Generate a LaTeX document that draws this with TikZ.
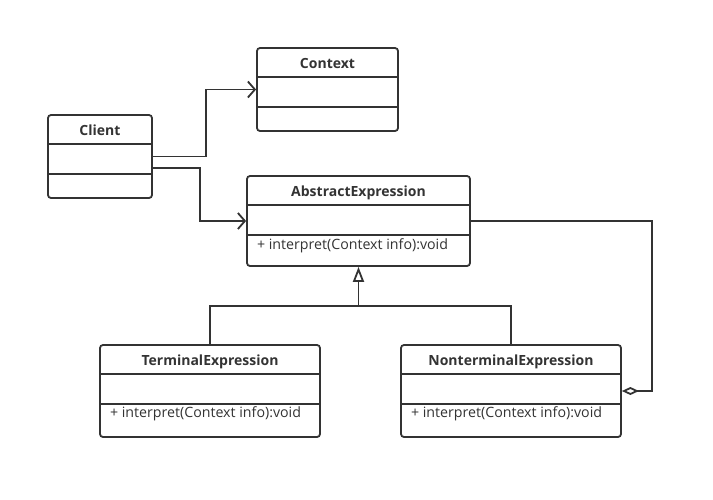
\documentclass[tikz,border=0pt]{standalone}
\usepackage{fontspec}
\setmainfont{Open Sans}
\usepackage{tikz}
\usetikzlibrary{positioning,calc,arrows.meta}

\definecolor{ink}{HTML}{333333}

\begin{document}
\begin{tikzpicture}[x=1pt, y=-1pt, line width=1.8pt, draw=ink, text=ink,
class node/.style={rectangle, draw=ink, rounded corners=3pt, minimum height=83pt, inner sep=0pt},
title/.style={font=\fontsize{14}{16}\selectfont\bfseries, anchor=base, inner sep=0pt},
method/.style={font=\fontsize{14.2}{16}\selectfont, anchor=base west, inner sep=0pt},
assoc/.style={draw=ink, -{Straight Barb[length=7pt, width=16pt, line width=1.8pt]}},
inherit/.style={draw=ink, -{Triangle[open, length=15pt, width=11pt, line width=1.8pt]}},
aggr/.style={draw=ink, -{Diamond[open, length=17pt, width=8pt, line width=1.8pt]}}]

\useasboundingbox (0,0) rectangle (713,499);

\node[class node] [minimum width=104pt] (client) at (100,156.5) {};
\node[class node] [minimum width=141pt] (ctx) at (327.5,89.5) {};
\node[class node] [minimum width=223pt, minimum height=90pt] (abs) at (358.5,221) {};
\node[class node] [minimum width=220pt, minimum height=92pt] (term) at (210,391) {};
\node[class node] [minimum width=220pt, minimum height=92pt] (nonterm) at (511,391) {};

% compartments
\foreach \n in {client,ctx,abs,term,nonterm} {
  \draw ($(\n.north west)+(0,30)$) -- ($(\n.north east)+(0,30)$);
  \draw ($(\n.north west)+(0,60)$) -- ($(\n.north east)+(0,60)$);
}

\node[title] (client-t) at ($(client.north)+(0,21.5)$) {Client};
\node[title] (ctx-t) at ($(ctx.north)+(0,21.5)$) {Context};
\node[title] (abs-t) at ($(abs.north)+(0,21.5)$) {AbstractExpression};
\node[title] (term-t) at ($(term.north)+(0,21.5)$) {TerminalExpression};
\node[title] (nonterm-t) at ($(nonterm.north)+(0,21.5)$) {NonterminalExpression};

\node[method] (abs-m) at ($(abs.north west)+(10,74.5)$) {+ interpret(Context info):void};
\node[method] (term-m) at ($(term.north west)+(10,73.5)$) {+ interpret(Context info):void};
\node[method] (nonterm-m) at ($(nonterm.north west)+(10,73.5)$) {+ interpret(Context info):void};

\coordinate (join) at (358.5,306);

\draw[assoc] (client.east) -- ++(53,0) |- (ctx.west);
\draw[assoc] ($(client.east)+(0,11.5)$) -- ++(47,0) |- (abs.west);
\draw (term.north) |- (join) -| (nonterm.north);
\draw[inherit] (join) -- (abs.south);
\draw[aggr] (abs.east) -- ++(181,0) |- (nonterm.east);
\end{tikzpicture}
\end{document}
